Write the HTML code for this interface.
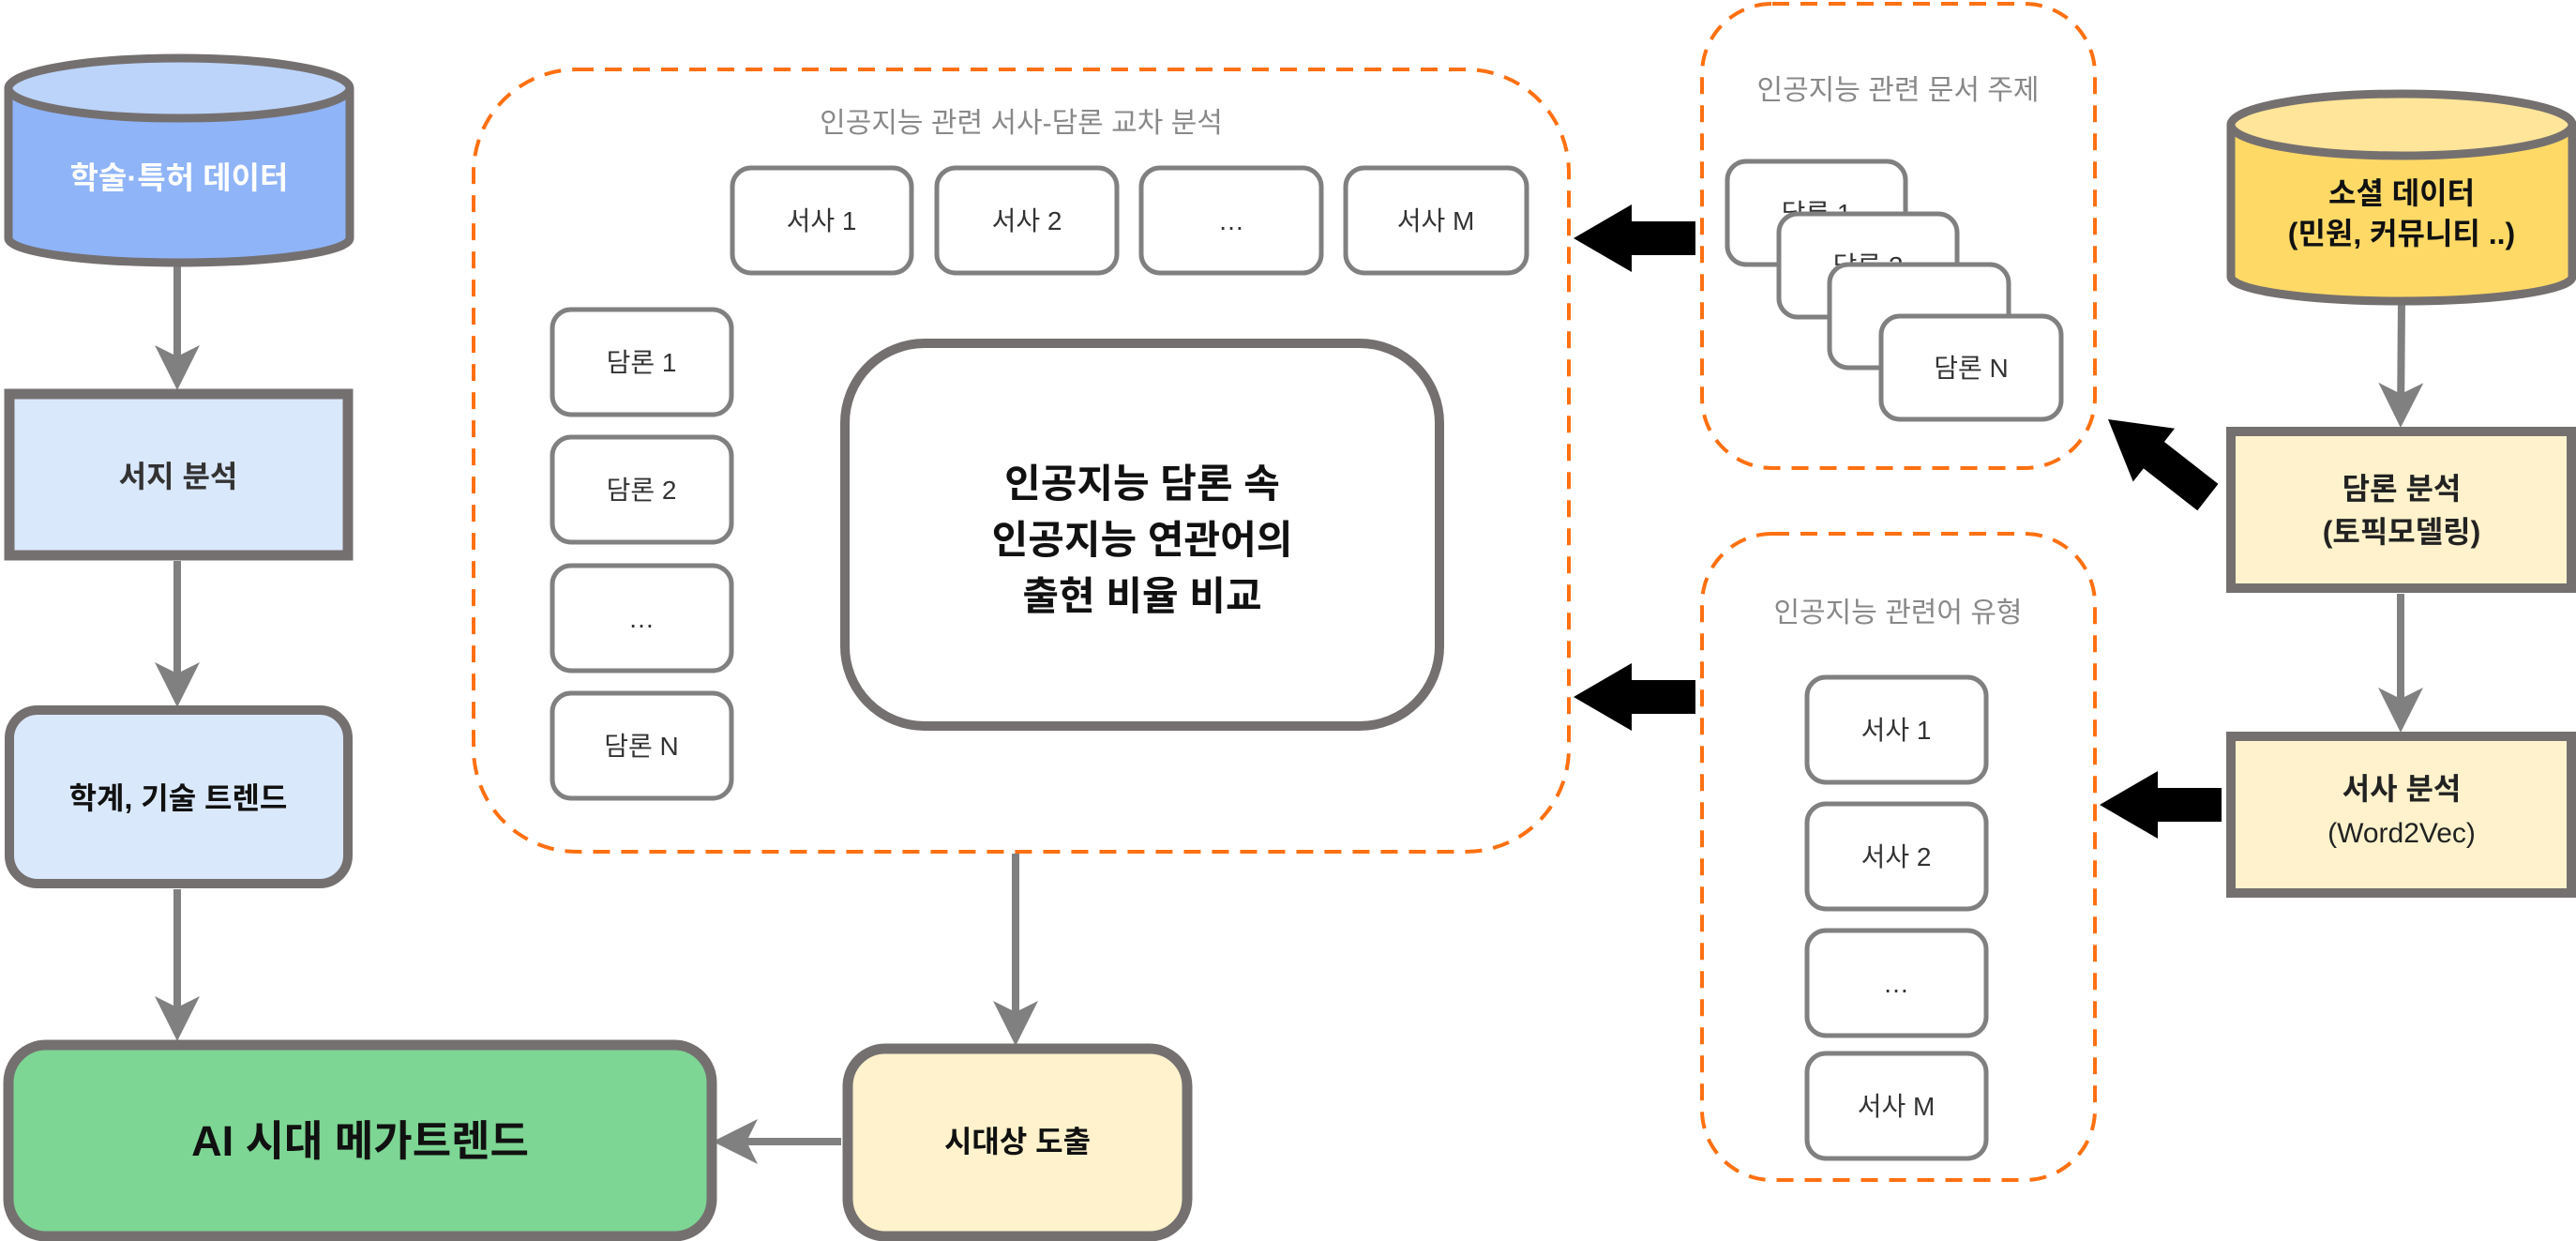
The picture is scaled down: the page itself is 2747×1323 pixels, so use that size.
<!DOCTYPE html>
<html><head><meta charset="utf-8"><style>
html,body{margin:0;padding:0;background:#fff;}
svg{display:block;}
text{font-family:"Liberation Sans","Noto Sans CJK KR",sans-serif;}
</style></head><body>
<svg width="2747" height="1323" viewBox="0 0 2747 1323" xmlns="http://www.w3.org/2000/svg">
<defs>
<marker id="ah" markerWidth="6" markerHeight="6" refX="5" refY="3" orient="auto" markerUnits="strokeWidth">
<path d="M0,0 L6,3 L0,6 L1.5,3 z" fill="#808080"/></marker>
</defs>
<g stroke="#808080" stroke-width="8" fill="none">
<line x1="189" y1="282" x2="189" y2="408" marker-end="url(#ah)"/>
<line x1="189" y1="598" x2="189" y2="746" marker-end="url(#ah)"/>
<line x1="189" y1="948" x2="189" y2="1102" marker-end="url(#ah)"/>
<line x1="1083" y1="910" x2="1083" y2="1107" marker-end="url(#ah)"/>
<line x1="897" y1="1217" x2="768" y2="1217" marker-end="url(#ah)"/>
<line x1="2561" y1="322" x2="2560" y2="448" marker-end="url(#ah)"/>
<line x1="2560" y1="633" x2="2560" y2="773" marker-end="url(#ah)"/>
</g>
<!-- left cylinder -->
<path d="M9,94 L9,254 A182,26 0 0 0 373,254 L373,94" fill="#8fb4f8" stroke="#757070" stroke-width="9"/>
<ellipse cx="191" cy="94" rx="182" ry="32" fill="#bcd4fa" stroke="#757070" stroke-width="9"/>
<text x="191" y="201" text-anchor="middle" font-size="33" font-weight="bold" fill="#fff">학술·특허 데이터</text>
<rect x="10" y="420" width="361" height="172" fill="#dae8fc" stroke="#757070" stroke-width="11"/>
<text x="190" y="519" text-anchor="middle" font-size="32" font-weight="bold" fill="#333">서지 분석</text>
<rect x="10" y="757" width="361" height="185" rx="30" fill="#dae8fc" stroke="#757070" stroke-width="10"/>
<text x="190" y="862" text-anchor="middle" font-size="32" font-weight="bold" fill="#111">학계, 기술 트렌드</text>
<rect x="9" y="1114" width="750" height="204" rx="40" fill="#7dd694" stroke="#757070" stroke-width="11"/>
<text x="384" y="1232" text-anchor="middle" font-size="45" font-weight="bold" fill="#111">AI 시대 메가트렌드</text>
<rect x="904" y="1118" width="362" height="200" rx="40" fill="#fff2cc" stroke="#757070" stroke-width="11"/>
<text x="1085" y="1228" text-anchor="middle" font-size="32" font-weight="bold" fill="#111">시대상 도출</text>
<!-- big dashed -->
<rect x="505" y="74" width="1168" height="834" rx="110" fill="none" stroke="#ff7011" stroke-width="4" stroke-dasharray="18,12"/>
<text x="1089" y="141" text-anchor="middle" font-size="30" fill="#888">인공지능 관련 서사-담론 교차 분석</text>
<g fill="#fff" stroke="#808080" stroke-width="5">
<rect x="781" y="179" width="191" height="112" rx="20"/>
<rect x="999" y="179" width="192" height="112" rx="20"/>
<rect x="1217" y="179" width="192" height="112" rx="20"/>
<rect x="1435" y="179" width="193" height="112" rx="20"/>
<rect x="589" y="330" width="191" height="112" rx="20"/>
<rect x="589" y="466" width="191" height="112" rx="20"/>
<rect x="589" y="603" width="191" height="112" rx="20"/>
<rect x="589" y="739" width="191" height="112" rx="20"/>
</g>
<g font-size="28" fill="#333" text-anchor="middle">
<text x="876" y="245">서사 1</text><text x="1095" y="245">서사 2</text><text x="1313" y="245">…</text><text x="1531" y="245">서사 M</text>
<text x="684" y="396">담론 1</text><text x="684" y="532">담론 2</text><text x="684" y="669">…</text><text x="684" y="805">담론  N</text>
</g>
<rect x="901" y="366" width="634" height="408" rx="85" fill="#fff" stroke="#757070" stroke-width="10"/>
<g font-size="42" font-weight="bold" fill="#111" text-anchor="middle">
<text x="1218" y="530">인공지능 담론 속</text><text x="1218" y="590">인공지능 연관어의</text><text x="1218" y="650">출현 비율 비교</text>
</g>
<!-- right dashed 1 -->
<rect x="1815" y="4" width="419" height="495" rx="75" fill="none" stroke="#ff7011" stroke-width="4" stroke-dasharray="18,12"/>
<text x="2024" y="106" text-anchor="middle" font-size="30" fill="#888">인공지능 관련 문서 주제</text>
<g stroke="#808080" stroke-width="5" font-size="28" text-anchor="middle">
<rect x="1842" y="172" width="190" height="110" rx="20" fill="#fff"/>
<text x="1937" y="237" fill="#333" stroke="none">담론 1</text>
<rect x="1897" y="228" width="190" height="110" rx="20" fill="#fff"/>
<text x="1992" y="293" fill="#333" stroke="none">담론 2</text>
<rect x="1951" y="282" width="191" height="110" rx="20" fill="#fff"/>
<rect x="2006" y="337" width="192" height="110" rx="20" fill="#fff"/>
</g>
<text x="2102" y="402" text-anchor="middle" font-size="28" fill="#333">담론  N</text>
<!-- right dashed 2 -->
<rect x="1815" y="569" width="419" height="689" rx="75" fill="none" stroke="#ff7011" stroke-width="4" stroke-dasharray="18,12"/>
<text x="2024" y="663" text-anchor="middle" font-size="30" fill="#888">인공지능 관련어 유형</text>
<g fill="#fff" stroke="#808080" stroke-width="5">
<rect x="1927" y="722" width="191" height="112" rx="20"/>
<rect x="1927" y="857" width="191" height="112" rx="20"/>
<rect x="1927" y="992" width="191" height="112" rx="20"/>
<rect x="1927" y="1123" width="191" height="112" rx="20"/>
</g>
<g font-size="28" fill="#333" text-anchor="middle">
<text x="2022" y="788">서사 1</text><text x="2022" y="923">서사 2</text><text x="2022" y="1058">…</text><text x="2022" y="1189">서사 M</text>
</g>
<!-- black arrows -->
<g fill="#000">
<polygon points="1808,236 1740,236 1740,218 1678,254 1740,290 1740,272 1808,272"/>
<polygon points="1808,725 1740,725 1740,707 1678,743 1740,779 1740,761 1808,761"/>
<polygon points="2369,840 2301,840 2301,822 2239,858 2301,894 2301,876 2369,876"/>
<g transform="translate(2248,447) rotate(38)"><polygon points="0,0 62,-36 62,-18 135,-18 135,18 62,18 62,36"/></g>
</g>
<!-- right cylinder -->
<path d="M2379,133 L2379,295 A182,26 0 0 0 2743,295 L2743,133" fill="#ffd966" stroke="#757070" stroke-width="9"/>
<ellipse cx="2561" cy="133" rx="182" ry="33" fill="#ffe599" stroke="#757070" stroke-width="9"/>
<text x="2561" y="217" text-anchor="middle" font-size="32" font-weight="bold" fill="#111">소셜 데이터</text>
<text x="2561" y="260" text-anchor="middle" font-size="32" font-weight="bold" fill="#111">(민원, 커뮤니티 ..)</text>
<rect x="2379" y="460" width="363" height="167" fill="#fff2cc" stroke="#757070" stroke-width="10"/>
<text x="2561" y="532" text-anchor="middle" font-size="32" font-weight="bold" fill="#222">담론 분석</text>
<text x="2561" y="578" text-anchor="middle" font-size="32" font-weight="bold" fill="#222">(토픽모델링)</text>
<rect x="2379" y="785" width="363" height="167" fill="#fff2cc" stroke="#757070" stroke-width="10"/>
<text x="2561" y="852" text-anchor="middle" font-size="32" font-weight="bold" fill="#222">서사 분석</text>
<text x="2561" y="898" text-anchor="middle" font-size="30" fill="#222">(Word2Vec)</text>
</svg>
</body></html>
